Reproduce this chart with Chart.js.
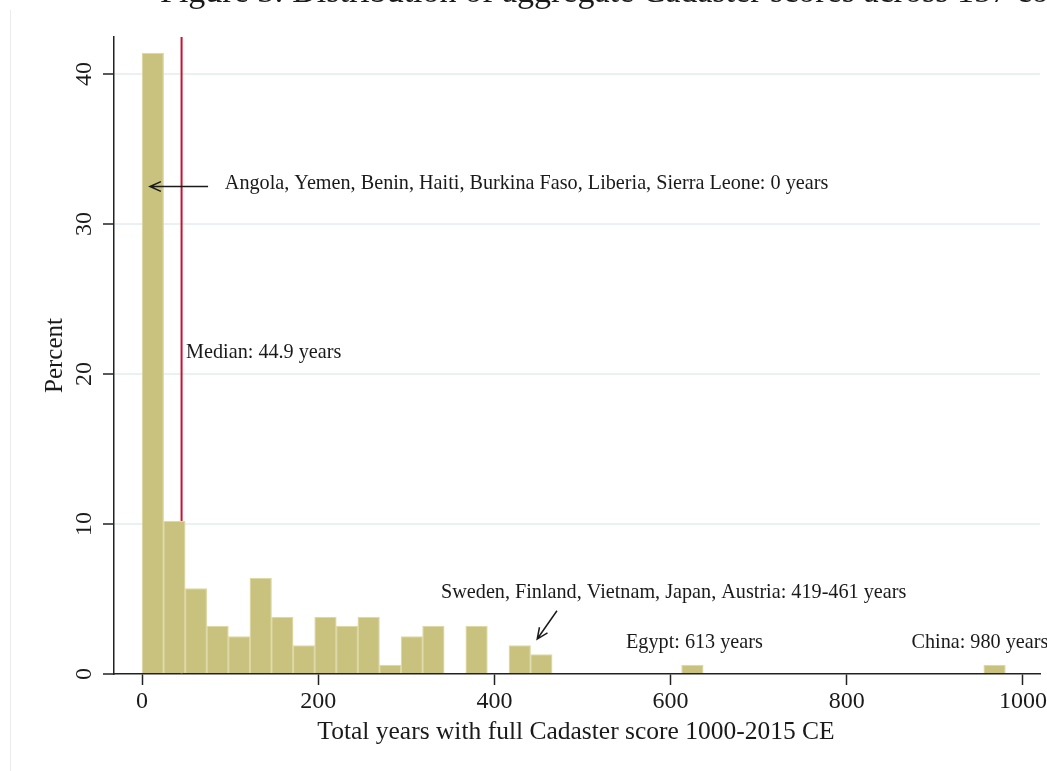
<!DOCTYPE html>
<html>
<head>
<meta charset="utf-8">
<script src="https://cdn.jsdelivr.net/npm/chart.js@4/dist/chart.umd.min.js"></script>
<style>
  html, body { margin: 0; padding: 0; background: #ffffff; }
  canvas { display: block; }
</style>
</head>
<body>
<canvas id="chart" width="1047" height="771"></canvas>
<script>
// Histogram of total years with a full Cadaster score (1000-2015 CE), 157 countries
const binWidth = 24.5;
// percent of countries per 24.5-year bin, first bin starts at 0 years
const percents = [
  41.4, 10.2, 5.7, 3.2, 2.5, 6.4, 3.8, 1.9, 3.8, 3.2,
  3.8, 0.6, 2.5, 3.2, 0, 3.2, 0, 1.9, 1.3, 0,
  0, 0, 0, 0, 0, 0.6, 0, 0, 0, 0,
  0, 0, 0, 0, 0, 0, 0, 0, 0, 0.6
];
const xTicks = [0, 200, 400, 600, 800, 1000];
const yTicks = [0, 10, 20, 30, 40];
const medianYears = 44.9;

const titleText = 'Figure 3: Distribution of aggregate Cadaster scores across 157 countries';
const xTitle = 'Total years with full Cadaster score 1000-2015 CE';
const yTitle = 'Percent';

// notes placed in data units (years, percent)
const notes = [
  { text: 'Angola, Yemen, Benin, Haiti, Burkina Faso, Liberia, Sierra Leone: 0 years', x: 94, y: 32.33 },
  { text: 'Median: 44.9 years', x: 50, y: 21.07 },
  { text: 'Sweden, Finland, Vietnam, Japan, Austria: 419-461 years', x: 339.4, y: 5.07 },
  { text: 'Egypt: 613 years', x: 549.4, y: 1.73 },
  { text: 'China: 980 years', x: 873.4, y: 1.73 }
];
const arrows = [
  { from: [75, 32.5], to: [9, 32.5] },
  { from: [471, 4.22], to: [448.6, 2.33] }
];

const SERIF = '"Liberation Serif", "Times New Roman", serif';
const INK = '#1a1a1a';

const decor = {
  id: 'decor',
  beforeDraw(chart) {
    const c = chart.ctx;
    c.save();
    c.fillStyle = '#ffffff';
    c.fillRect(0, 0, chart.width, chart.height);
    // faint page frame on the left
    c.strokeStyle = '#ececec';
    c.lineWidth = 1;
    c.beginPath();
    c.moveTo(10.5, 10);
    c.lineTo(10.5, chart.height);
    c.stroke();
    // figure caption, clipped at the top edge
    c.fillStyle = INK;
    c.font = '34px ' + SERIF;
    c.textAlign = 'left';
    c.textBaseline = 'alphabetic';
    c.fillText(titleText, 160, 1.5);
    c.restore();
  },
  beforeDatasetsDraw(chart) {
    const c = chart.ctx, xs = chart.scales.x, ys = chart.scales.y;
    const px = xs.getPixelForValue(medianYears);
    c.save();
    c.strokeStyle = 'rgb(200,18,48)';
    c.lineWidth = 2;
    c.beginPath();
    c.moveTo(px, chart.chartArea.top);
    c.lineTo(px, ys.getPixelForValue(0));
    c.stroke();
    c.restore();
  },
  afterDraw(chart) {
    const c = chart.ctx, xs = chart.scales.x, ys = chart.scales.y;
    c.save();
    c.fillStyle = INK;
    // y tick labels, rotated
    c.font = '24px ' + SERIF;
    c.textAlign = 'center';
    c.textBaseline = 'alphabetic';
    ys.ticks.forEach(t => {
      c.save();
      c.translate(91, ys.getPixelForValue(t.value));
      c.rotate(-Math.PI / 2);
      c.fillText(String(t.value), 0, 0);
      c.restore();
    });
    // axis titles
    c.font = '25px ' + SERIF;
    c.save();
    c.translate(62, (chart.chartArea.top + chart.chartArea.bottom) / 2);
    c.rotate(-Math.PI / 2);
    c.fillText(yTitle, 0, 0);
    c.restore();
    c.font = '25.5px ' + SERIF;
    c.fillText(xTitle, 576, 739);
    // notes
    c.font = '20.2px ' + SERIF;
    c.textAlign = 'left';
    notes.forEach(n => c.fillText(n.text, xs.getPixelForValue(n.x), ys.getPixelForValue(n.y)));
    // arrows
    c.strokeStyle = INK;
    c.lineWidth = 1.5;
    arrows.forEach(a => {
      const x0 = xs.getPixelForValue(a.from[0]), y0 = ys.getPixelForValue(a.from[1]);
      const x1 = xs.getPixelForValue(a.to[0]), y1 = ys.getPixelForValue(a.to[1]);
      const ang = Math.atan2(y1 - y0, x1 - x0);
      const head = 12, spread = 0.42;
      c.beginPath();
      c.moveTo(x0, y0);
      c.lineTo(x1, y1);
      c.moveTo(x1 - head * Math.cos(ang - spread), y1 - head * Math.sin(ang - spread));
      c.lineTo(x1, y1);
      c.lineTo(x1 - head * Math.cos(ang + spread), y1 - head * Math.sin(ang + spread));
      c.stroke();
    });
    c.restore();
  }
};

new Chart(document.getElementById('chart'), {
  type: 'bar',
  data: {
    datasets: [{
      data: percents.map((p, i) => ({ x: i * binWidth + binWidth / 2, y: p > 0 ? p : null })),
      backgroundColor: 'rgb(201,194,126)',
      borderColor: 'rgb(222,216,166)',
      borderWidth: 1.3,
      barPercentage: 1,
      categoryPercentage: 1
    }]
  },
  options: {
    responsive: false,
    animation: false,
    devicePixelRatio: 1,
    layout: { padding: { left: 30, right: 7, top: 37, bottom: 0 } },
    plugins: { legend: { display: false }, tooltip: { enabled: false } },
    scales: {
      x: {
        type: 'linear',
        offset: false,
        min: -31.8,
        max: 1019.3,
        afterBuildTicks: s => { s.ticks = xTicks.map(v => ({ value: v })); },
        afterFit: s => { s.height = 97; s.paddingLeft = 0; s.paddingRight = 0; },
        grid: { offset: false, drawOnChartArea: false, drawTicks: true, tickLength: 11, tickColor: '#222', tickWidth: 1.5 },
        border: { color: '#222', width: 1.5 },
        ticks: {
          font: { family: SERIF, size: 24 }, color: INK, padding: 2, maxRotation: 0, autoSkip: false,
          callback: v => String(v)
        }
      },
      y: {
        type: 'linear',
        min: 0,
        max: 42.47,
        afterBuildTicks: s => { s.ticks = yTicks.map(v => ({ value: v })); },
        afterFit: s => { s.width = 84; s.paddingTop = 0; s.paddingBottom = 0; },
        grid: {
          color: ctx => (ctx.tick && ctx.tick.value === 0) ? 'rgba(0,0,0,0)' : 'rgb(233,241,242)',
          lineWidth: 2,
          tickColor: '#222',
          tickLength: 11,
          tickWidth: 1.5
        },
        border: { color: '#222', width: 1.5 },
        ticks: { display: false }
      }
    }
  },
  plugins: [decor]
});
</script>
</body>
</html>
